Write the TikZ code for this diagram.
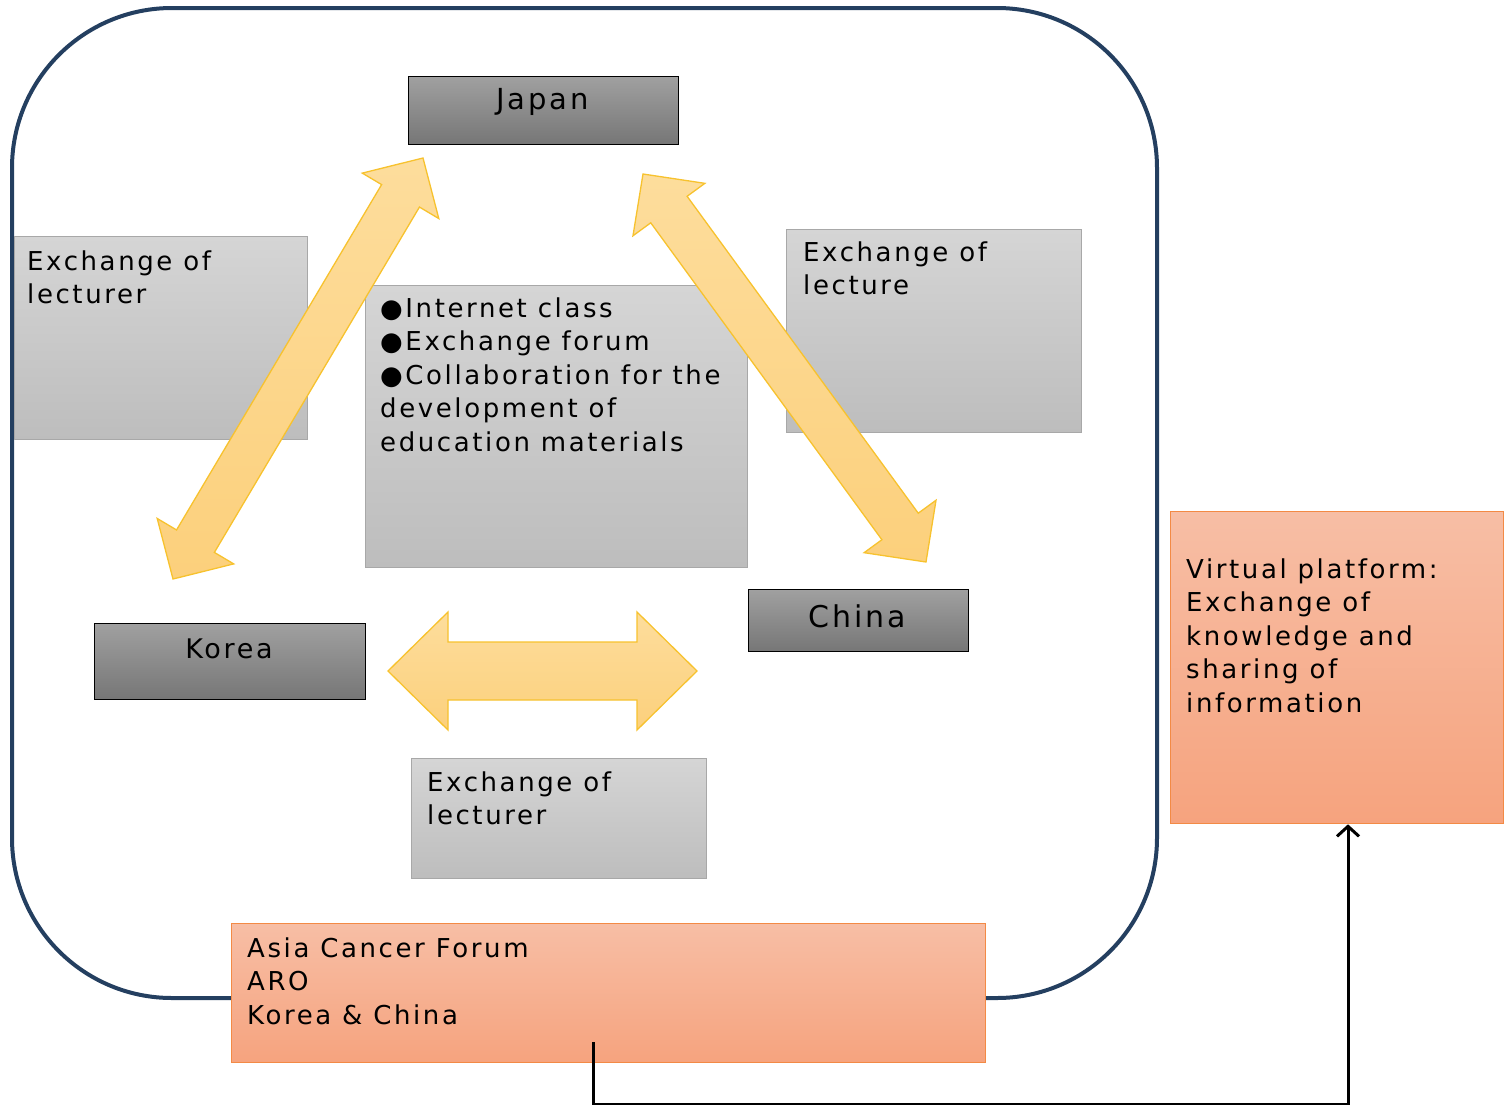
\documentclass[tikz,border=0pt]{standalone}
\usepackage{fontspec}
\setmainfont{DejaVu Sans}[LetterSpace=10]
\usetikzlibrary{calc,arrows.meta}

\definecolor{frameblue}{HTML}{243F60}
\definecolor{panelTop}{HTML}{D5D5D5}
\definecolor{panelBot}{HTML}{BDBDBD}
\definecolor{panelLine}{HTML}{A8A8A8}
\definecolor{countryTop}{HTML}{A0A0A0}
\definecolor{countryBot}{HTML}{767676}
\definecolor{forumTop}{HTML}{F7BEA5}
\definecolor{forumBot}{HTML}{F6A37E}
\definecolor{forumLine}{HTML}{F38A45}
\definecolor{arrowTop}{HTML}{FDDD9C}
\definecolor{arrowBot}{HTML}{FCD07C}
\definecolor{arrowLine}{HTML}{F7C22E}

% double-headed block arrow between two tips:
% #1,#2 tips, #3 half shaft width, #4 half head width, #5 head length
\newcommand\dblblock[5]{%
  \draw[blockarrow] (#1)
    -- ($(#1)!#5!(#2)!#4!90:(#2)$) -- ($(#1)!#5!(#2)!#3!90:(#2)$)
    -- ($(#2)!#5!(#1)!#3!-90:(#1)$) -- ($(#2)!#5!(#1)!#4!-90:(#1)$)
    -- (#2)
    -- ($(#2)!#5!(#1)!#4!90:(#1)$) -- ($(#2)!#5!(#1)!#3!90:(#1)$)
    -- ($(#1)!#5!(#2)!#3!-90:(#2)$) -- ($(#1)!#5!(#2)!#4!-90:(#2)$)
    -- cycle;}

\tikzset{
  panel/.style={draw=panelLine, line width=1.2pt, top color=panelTop,
    bottom color=panelBot, anchor=north west, inner sep=0pt},
  country/.style={draw=black, line width=1.3pt, top color=countryTop,
    bottom color=countryBot, anchor=north west, inner sep=0pt},
  forum/.style={draw=forumLine, line width=1.3pt, top color=forumTop,
    bottom color=forumBot, anchor=north west, inner sep=0pt},
  % text blocks are placed by their top edge (first baseline minus 19.8)
  boxtext/.style={anchor=north west, align=left, inner sep=0pt,
    font=\fontsize{26}{33.5}\selectfont},
  countrytext/.style={anchor=base, inner sep=0pt},
  blockarrow/.style={draw=arrowLine, line width=1.3pt, top color=arrowTop,
    bottom color=arrowBot, line join=miter},
  conn/.style={line width=3pt, -{Straight Barb[length=10pt,width=22pt]}}
}

\begin{document}
\begin{tikzpicture}[x=1pt, y=-1pt]
  \useasboundingbox (0,0) rectangle (1508,1104);

  % outer frame around the three countries
  \draw[frameblue, line width=4pt, rounded corners=160pt]
    (12,8) rectangle (1157,998);

  % grey panels
  \node[panel, minimum width=293pt, minimum height=203pt] (lecL) at (14,236) {};
  \node[panel, minimum width=295pt, minimum height=203pt] (lecR) at (786,229) {};
  \node[panel, minimum width=382pt, minimum height=282pt] (mid) at (365,285) {};
  \node[panel, minimum width=295pt, minimum height=120pt] (lecB) at (411,758) {};

  \node[boxtext] (lecLt) at (27,250.2) {Exchange of\\lecturer};
  \node[boxtext] (lecRt) at (803,241.2) {Exchange of\\lecture};
  \node[boxtext] (midt) at (380,297.2)
    {●Internet class\\●Exchange forum\\●Collaboration for the\\development of\\education materials};
  \node[boxtext] (lecBt) at (427,771.2) {Exchange of\\lecturer};

  % orange forum boxes
  \node[forum, minimum width=754pt, minimum height=139pt] (acf) at (231,923) {};
  \node[boxtext] (acft) at (247,937.2) {Asia Cancer Forum\\ARO\\Korea \& China};
  \node[forum, minimum width=333pt, minimum height=312pt] (vp) at (1170,511) {};
  \node[boxtext] (vpt) at (1186,558.2)
    {Virtual platform:\\Exchange of\\knowledge and\\sharing of\\information};

  % country boxes
  \node[country, minimum width=270pt, minimum height=68pt] (japan) at (408,76) {};
  \node[country, minimum width=271pt, minimum height=76pt] (korea) at (94,623) {};
  \node[country, minimum width=220pt, minimum height=62pt] (china) at (748,589) {};
  \node[countrytext, font=\fontsize{29}{34}\selectfont] (japant) at (542.5,109) {Japan};
  \node[countrytext, font=\fontsize{27}{34}\selectfont] (koreat) at (229,658) {Korea};
  \node[countrytext, font=\fontsize{30}{34}\selectfont] (chinat) at (857,627) {China};

  % exchange arrows
  \coordinate (jk1) at (423,158);
  \coordinate (jk2) at (173,579);
  \coordinate (jc1) at (643,174);
  \coordinate (jc2) at (926,562);
  \coordinate (kc1) at (388,671);
  \coordinate (kc2) at (697,671);
  \dblblock{jk1}{jk2}{22pt}{44.5pt}{44pt}
  \dblblock{jc1}{jc2}{22.5pt}{44.5pt}{44pt}
  \dblblock{kc1}{kc2}{29pt}{59pt}{60pt}

  % link from the forum to the virtual platform
  \coordinate (acfport) at (593,1042);
  \coordinate (turn) at (1348,1104.5);
  \draw[conn] (acfport) |- (turn) -- (turn |- vp.south);
\end{tikzpicture}
\end{document}
